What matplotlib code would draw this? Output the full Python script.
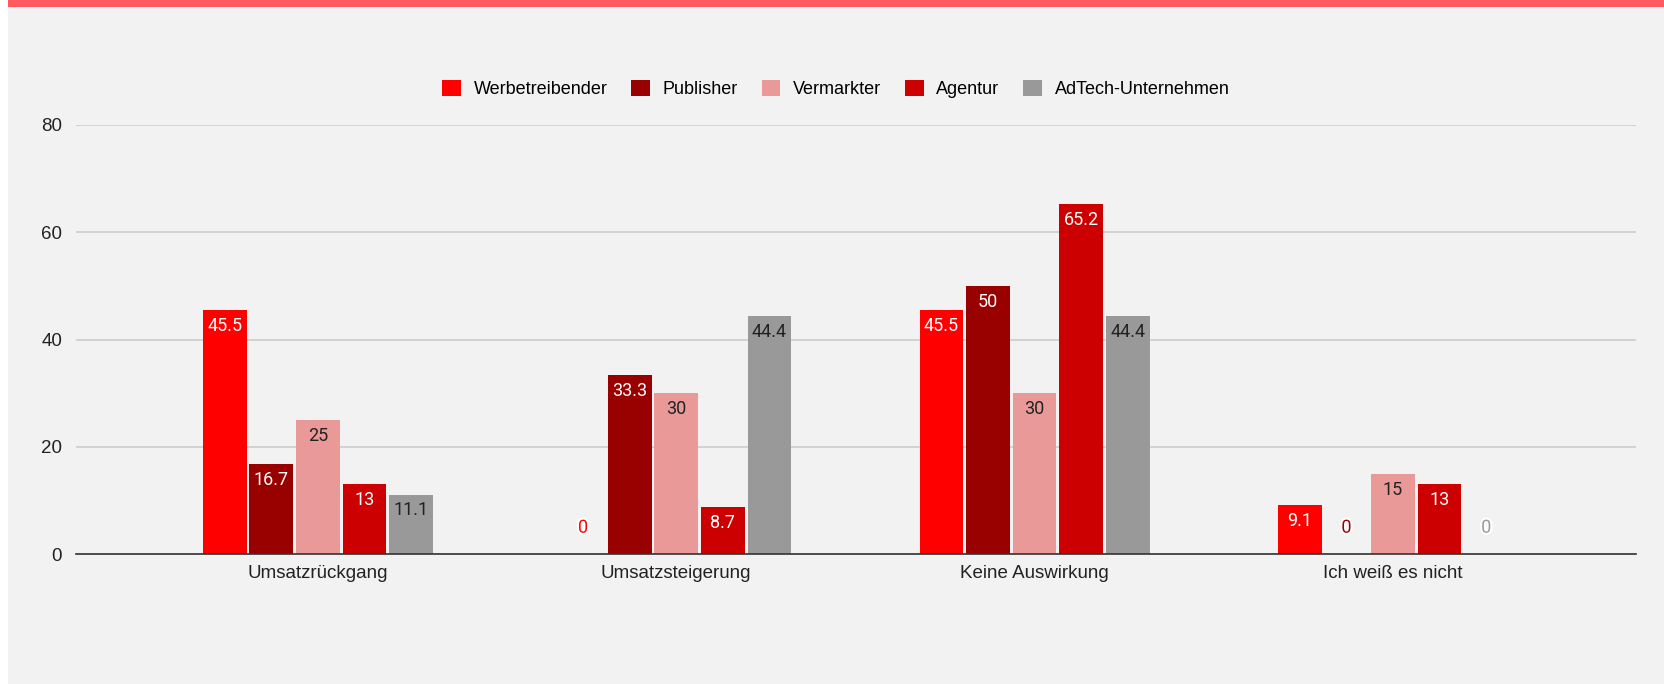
import matplotlib.pyplot as plt
import matplotlib.patheffects as pe
from matplotlib.patches import Rectangle
import numpy as np

categories = ["Umsatzrückgang", "Umsatzsteigerung", "Keine Auswirkung", "Ich weiß es nicht"]
series_names = ["Werbetreibender", "Publisher", "Vermarkter", "Agentur", "AdTech-Unternehmen"]
werbetreibender = [45.5, 0, 45.5, 9.1]
publisher = [16.7, 33.3, 50, 0]
vermarkter = [25, 30, 30, 15]
agentur = [13, 8.7, 65.2, 13]
adtech = [11.1, 44.4, 44.4, 0]
y_ticks = [0, 20, 40, 60, 80]

all_series = [werbetreibender, publisher, vermarkter, agentur, adtech]
colors = ["#ff0000", "#990000", "#ea9999", "#cc0000", "#999999"]
label_colors = ["white", "white", "#222222", "white", "#222222"]

plt.rcParams['font.family'] = ['Liberation Sans', 'DejaVu Sans']

fig = plt.figure(figsize=(16.65, 6.84), dpi=100, facecolor="#f2f2f2")
# white strip on the left and red bar on top
fig.patches.append(Rectangle((0, 0), 8 / 1665, 1, transform=fig.transFigure,
                             facecolor="white", edgecolor="none", zorder=0))
fig.patches.append(Rectangle((8 / 1665, 1 - 7 / 684), 1, 7 / 684, transform=fig.transFigure,
                             facecolor="#ff5a5f", edgecolor="none", zorder=1))

ax = fig.add_axes([0.0456, 0.190, 0.9370, 0.6273])
ax.set_facecolor("#f2f2f2")

x = np.arange(len(categories))
width = 0.122
pitch = 0.130
for i, (name, vals) in enumerate(zip(series_names, all_series)):
    pos = x + (i - 2) * pitch
    ax.bar(pos, vals, width, color=colors[i], label=name, zorder=3)
    for xp, v in zip(pos, vals):
        txt = f"{v:g}"
        if v == 0:
            ax.annotate(txt, (xp, 0), xytext=(0, 19), textcoords="offset points",
                        ha="center", va="center", fontsize=13, family="Roboto",
                        color=colors[i], zorder=5,
                        path_effects=[pe.withStroke(linewidth=3, foreground="white")])
        else:
            ax.annotate(txt, (xp, v), xytext=(0, -5), textcoords="offset points",
                        ha="center", va="top", fontsize=13, family="Roboto",
                        color=label_colors[i], zorder=5)

ax.set_xlim(-0.675, 3.678)
ax.set_ylim(0, 80)
ax.set_yticks(y_ticks)
ax.set_xticks(x)
ax.set_xticklabels(categories)
ax.tick_params(axis="both", length=0, labelsize=13.5, colors="#222222")
ax.tick_params(axis="y", pad=10)
ax.tick_params(axis="x", pad=8)
ax.grid(axis="y", color="#cccccc", linewidth=1.2, zorder=0)
for s in ["top", "right", "left"]:
    ax.spines[s].set_visible(False)
ax.spines["bottom"].set_color("#333333")
ax.spines["bottom"].set_linewidth(1.2)
ax.spines["bottom"].set_zorder(4)

fig.legend(loc="center", bbox_to_anchor=(0.502, 0.87), ncol=5, frameon=False,
           fontsize=13, handlelength=1.05, handleheight=1.05, handletextpad=0.7,
           columnspacing=1.3)

fig.savefig("out.png", dpi=100, facecolor=fig.get_facecolor())
